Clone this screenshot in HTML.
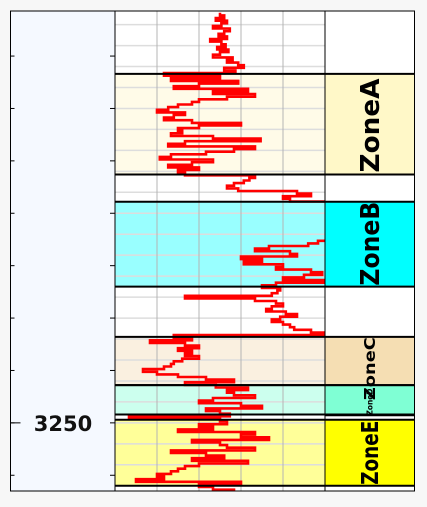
<!DOCTYPE html>
<html><head><meta charset="utf-8"><style>
html,body{margin:0;padding:0;background:#f7f7f7;width:427px;height:507px;overflow:hidden}
svg{display:block;font-family:"DejaVu Sans","Liberation Sans",sans-serif}
</style></head><body>
<svg id="log" width="427" height="507" viewBox="0 0 427 507"></svg>
<script>
const depthStart = 3211.0;
const depthStep = 0.25;
const curveValues = [
 75,78,72,80,76,70,82,78,74,80,68,76,79,73,81,75,70,84,80,88,92,78,86,
 35,75,40,88,60,42,95,70,100,80,60,55,45,38,30,50,42,35,55,90,60,45,48,40,70,104,50,38,100,85,65,40,32,70,55,38,60,45,50,
 100,96,92,85,80,88,130,140,120,125,
 170,165,175,168,160,172,165,170,168,162,170,165,158,160,152,
 145,138,110,100,125,130,90,105,92,120,115,140,148,135,120,150,115,105,
 118,116,112,50,100,115,120,112,108,122,130,118,112,120,125,128,140,150,
 42,55,25,50,60,45,55,50,60,48,42,40,35,20,30,45,65,85,50,
 72,95,80,85,100,70,60,90,105,65,75,82,
 10,
 75,80,60,70,45,100,90,110,55,75,80,100,40,65,78,55,95,60,50,45,40,30,35,15,90,60,
 70,85];
const zoneNames = ["ZoneA","ZoneB","ZoneC","ZoneD","ZoneE"];
const zoneTops = [3216.7,3228.9,3241.8,3246.4,3249.7];
const zoneBases = [3226.3,3237.0,3246.4,3249.2,3256.0];
const zoneLabelBases = [3226.3,3237.0,3246.4,3249.3,3256.0];
const tickDepths = [3215,3220,3225,3230,3235,3240,3245,3250,3255];
const tickLabels = ["","","","","","","","3250",""];
const gridValues = [30,60,90,120];

const svg=document.getElementById('log');
const NS='http://www.w3.org/2000/svg';
const TOP=11, BOT=491, D0=3210.7, PX=10.48;
const CX0=115, CX1=325, ZX0=325, ZX1=414.5, DX0=10.5;
const yScale=d=>TOP+(d-D0)*PX;
const xScale=v=>CX0+v/150*(CX1-CX0);
const fillsTrack=["#fffbe8","#99ffff","#faf0e0","#ccffee","#ffff99"];
const fillsZone=["#fff8c8","#00ffff","#f5deb3","#7fffd4","#ffff00"];
const fontSizes=[26,26,15,8,23];
const labelLengths=[94,84,63,27,64];
const labelYOffsets=[-2,-1,15,0,-1];
function mk(tag,attrs,parent){const e=document.createElementNS(NS,tag);for(const k in attrs)e.setAttribute(k,attrs[k]);(parent||svg).appendChild(e);return e;}

let e;
const defs=mk('defs',{});
const cp=mk('clipPath',{id:'trackclip'},defs);
mk('rect',{x:CX0,y:TOP,width:CX1-CX0,height:BOT-TOP},cp);

e=mk('rect',{x:DX0,y:TOP,width:CX0-DX0,height:BOT-TOP,fill:'#f5f9ff'});


e=mk('rect',{x:CX0,y:TOP,width:CX1-CX0,height:BOT-TOP,fill:'#ffffff'});


e=mk('rect',{x:ZX0,y:TOP,width:ZX1-ZX0,height:BOT-TOP,fill:'#ffffff'});



zoneNames.forEach((n,i)=>{
  const y0=yScale(zoneTops[i]), y1=yScale(zoneBases[i]);
  e=mk('rect',{x:CX0,y:y0,width:CX1-CX0,height:y1-y0,fill:fillsTrack[i]});
  
  
  const yb=yScale(zoneLabelBases[i]);
  e=mk('rect',{x:ZX0,y:y0,width:ZX1-ZX0,height:yb-y0,fill:fillsZone[i]});
  
  
});

for(let d=3212; d<=3256; d+=2){
  e=mk('line',{x1:CX0,x2:CX1,y1:yScale(d),y2:yScale(d),stroke:'#dddddd','stroke-width':1.5});
  
  
}
gridValues.forEach(v=>{
  e=mk('line',{x1:xScale(v),x2:xScale(v),y1:TOP,y2:BOT,stroke:'#b4b4b4','stroke-width':1});
  
  
});

let dstr='';
curveValues.forEach((v,i)=>{
  const y=yScale(depthStart+i*depthStep), x=xScale(v);
  if(i===0) dstr+='M'+x.toFixed(1)+' '+(y-1.3).toFixed(1);
  else dstr+=' H'+x.toFixed(1);
  dstr+=' V'+(y+1.3).toFixed(1);
});
e=mk('path',{d:dstr,fill:'none',stroke:'#ff0000','stroke-width':2.6,'stroke-linejoin':'miter','clip-path':'url(#trackclip)'});



zoneNames.forEach((n,i)=>{
  [zoneTops[i],zoneBases[i]].forEach(d=>{
    e=mk('line',{x1:CX0,x2:ZX1,y1:yScale(d),y2:yScale(d),stroke:'#000','stroke-width':2});
    
    
  });
});
e=mk('line',{x1:ZX0,x2:ZX1,y1:yScale(3249.3),y2:yScale(3249.3),stroke:'#000','stroke-width':1.5});



zoneNames.forEach((n,i)=>{
  const yb=yScale(zoneLabelBases[i])+labelYOffsets[i], cx=(ZX0+ZX1)/2+fontSizes[i]*0.36;
  e=mk('text',{x:cx,y:yb,transform:`rotate(-90 ${cx} ${yb})`,'font-size':fontSizes[i],'font-weight':'bold',fill:'#000',textLength:labelLengths[i],lengthAdjust:'spacingAndGlyphs'});
  e.textContent=n;
  
  
});

tickDepths.forEach((d,i)=>{
  const y=yScale(d);
  e=mk('line',{x1:DX0,x2:DX0+4,y1:y,y2:y,stroke:'#000','stroke-width':1});
  
  
  e=mk('line',{x1:CX0-5,x2:CX0,y1:y,y2:y,stroke:'#000','stroke-width':1});
  
  
  if(tickLabels[i]){
    e=mk('line',{x1:DX0,x2:DX0+10,y1:y,y2:y,stroke:'#000','stroke-width':1});
    
    
    e=mk('text',{x:63,y:y+8,'text-anchor':'middle','font-size':21,'font-weight':'bold',fill:'#111'});
    e.textContent=tickLabels[i];
    
    
  }
});

e=mk('rect',{x:DX0,y:TOP,width:ZX1-DX0,height:BOT-TOP,fill:'none',stroke:'#000','stroke-width':1});


[CX0,ZX0].forEach(x=>{
  e=mk('line',{x1:x,x2:x,y1:TOP,y2:BOT,stroke:'#000','stroke-width':1});
  
  
});
</script>
</body></html>
